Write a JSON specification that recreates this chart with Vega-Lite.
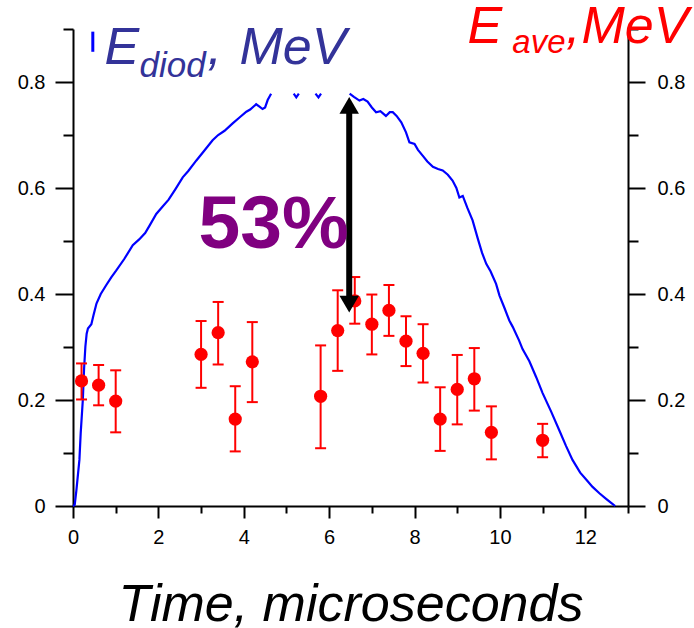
{
  "$schema": "https://vega.github.io/schema/vega-lite/v6.json",
  "width": 555,
  "height": 477,
  "autosize": {"type": "none"},
  "padding": {"left": 73, "top": 29, "right": 66, "bottom": 122},
  "background": "white",
  "config": {
    "view": {"stroke": null},
    "axis": {"grid": false, "domainColor": "black", "domainWidth": 2, "tickColor": "black", "tickWidth": 2, "labelFont": "Liberation Sans", "labelFontSize": 20, "labelColor": "black", "labelFlush": false, "labelOverlap": false}
  },
  "resolve": {"axis": {"x": "independent", "y": "independent"}},
  "layer": [
    {
      "data": {"values": [
        {"t":0,"e":0,"s":"a"},{"t":0.04,"e":0.002,"s":"a"},{"t":0.08,"e":0.03,"s":"a"},{"t":0.15,"e":0.087,"s":"a"},{"t":0.18,"e":0.137,"s":"a"},{"t":0.23,"e":0.2,"s":"a"},{"t":0.26,"e":0.26,"s":"a"},{"t":0.29,"e":0.301,"s":"a"},{"t":0.32,"e":0.325,"s":"a"},{"t":0.35,"e":0.335,"s":"a"},{"t":0.43,"e":0.343,"s":"a"},{"t":0.48,"e":0.36,"s":"a"},{"t":0.55,"e":0.382,"s":"a"},{"t":0.65,"e":0.4,"s":"a"},{"t":0.78,"e":0.417,"s":"a"},{"t":0.9,"e":0.432,"s":"a"},{"t":1.01,"e":0.444,"s":"a"},{"t":1.2,"e":0.466,"s":"a"},{"t":1.4,"e":0.492,"s":"a"},{"t":1.55,"e":0.503,"s":"a"},{"t":1.69,"e":0.515,"s":"a"},{"t":1.8,"e":0.53,"s":"a"},{"t":1.95,"e":0.551,"s":"a"},{"t":2.1,"e":0.565,"s":"a"},{"t":2.24,"e":0.578,"s":"a"},{"t":2.4,"e":0.598,"s":"a"},{"t":2.57,"e":0.62,"s":"a"},{"t":2.7,"e":0.632,"s":"a"},{"t":2.89,"e":0.652,"s":"a"},{"t":3.05,"e":0.668,"s":"a"},{"t":3.27,"e":0.69,"s":"a"},{"t":3.4,"e":0.7,"s":"a"},{"t":3.55,"e":0.708,"s":"a"},{"t":3.74,"e":0.722,"s":"a"},{"t":3.9,"e":0.733,"s":"a"},{"t":4.06,"e":0.744,"s":"a"},{"t":4.15,"e":0.748,"s":"a"},{"t":4.29,"e":0.758,"s":"a"},{"t":4.36,"e":0.754,"s":"a"},{"t":4.44,"e":0.749,"s":"a"},{"t":4.5,"e":0.752,"s":"a"},{"t":4.56,"e":0.766,"s":"a"},{"t":4.64,"e":0.778,"s":"a"},
        {"t":5.17,"e":0.778,"s":"b"},{"t":5.23,"e":0.771,"s":"b"},{"t":5.29,"e":0.778,"s":"b"},
        {"t":5.68,"e":0.778,"s":"c"},{"t":5.75,"e":0.771,"s":"c"},{"t":5.81,"e":0.778,"s":"c"},
        {"t":6.48,"e":0.778,"s":"d"},{"t":6.58,"e":0.772,"s":"d"},{"t":6.71,"e":0.765,"s":"d"},{"t":6.8,"e":0.768,"s":"d"},{"t":6.9,"e":0.763,"s":"d"},{"t":7.0,"e":0.752,"s":"d"},{"t":7.1,"e":0.743,"s":"d"},{"t":7.2,"e":0.745,"s":"d"},{"t":7.33,"e":0.736,"s":"d"},{"t":7.42,"e":0.743,"s":"d"},{"t":7.49,"e":0.743,"s":"d"},{"t":7.58,"e":0.736,"s":"d"},{"t":7.69,"e":0.724,"s":"d"},{"t":7.8,"e":0.705,"s":"d"},{"t":7.88,"e":0.686,"s":"d"},{"t":8.0,"e":0.683,"s":"d"},{"t":8.08,"e":0.672,"s":"d"},{"t":8.19,"e":0.661,"s":"d"},{"t":8.3,"e":0.65,"s":"d"},{"t":8.43,"e":0.64,"s":"d"},{"t":8.55,"e":0.636,"s":"d"},{"t":8.66,"e":0.633,"s":"d"},{"t":8.78,"e":0.625,"s":"d"},{"t":8.89,"e":0.614,"s":"d"},{"t":8.98,"e":0.6,"s":"d"},{"t":9.05,"e":0.582,"s":"d"},{"t":9.13,"e":0.585,"s":"d"},{"t":9.24,"e":0.562,"s":"d"},{"t":9.36,"e":0.539,"s":"d"},{"t":9.48,"e":0.505,"s":"d"},{"t":9.58,"e":0.478,"s":"d"},{"t":9.68,"e":0.457,"s":"d"},{"t":9.78,"e":0.443,"s":"d"},{"t":9.91,"e":0.419,"s":"d"},{"t":9.99,"e":0.397,"s":"d"},{"t":10.1,"e":0.375,"s":"d"},{"t":10.22,"e":0.35,"s":"d"},{"t":10.3,"e":0.338,"s":"d"},{"t":10.45,"e":0.312,"s":"d"},{"t":10.53,"e":0.296,"s":"d"},{"t":10.69,"e":0.273,"s":"d"},{"t":10.85,"e":0.243,"s":"d"},{"t":11.0,"e":0.213,"s":"d"},{"t":11.2,"e":0.178,"s":"d"},{"t":11.39,"e":0.143,"s":"d"},{"t":11.55,"e":0.113,"s":"d"},{"t":11.7,"e":0.087,"s":"d"},{"t":11.88,"e":0.063,"s":"d"},{"t":12.02,"e":0.05,"s":"d"},{"t":12.17,"e":0.036,"s":"d"},{"t":12.33,"e":0.024,"s":"d"},{"t":12.48,"e":0.014,"s":"d"},{"t":12.62,"e":0.005,"s":"d"},{"t":12.7,"e":0.0,"s":"d"}
      ]},
      "mark": {"type": "line", "color": "#0000FF", "strokeWidth": 2.2},
      "encoding": {
        "x": {"field": "t", "type": "quantitative", "scale": {"domain": [0, 13], "nice": false, "zero": false},
          "axis": {"orient": "bottom", "values": [0,2,4,6,8,10,12],
            "labelExpr": "format(datum.value, 'd')",
            "tickSize": 12, "labelPadding": 9,
            "title": "Time, microseconds", "titleFont": "Liberation Sans", "titleFontStyle": "italic", "titleFontWeight": "normal", "titleFontSize": 52, "titleColor": "black", "titleBaseline": "alphabetic", "titleY": 114}},
        "y": {"field": "e", "type": "quantitative", "scale": {"domain": [0, 0.9], "nice": false},
          "axis": {"orient": "left", "values": [0,0.2,0.4,0.6,0.8],
            "labelExpr": "datum.value == 0 ? '0' : format(datum.value, '.1f')",
            "tickSize": 18, "labelPadding": 10, "title": null}},
        "detail": {"field": "s"}
      }
    },
    {
      "data": {"name": "pts", "values": [
        {"t":0.2,"v":0.236,"lo":0.201,"hi":0.269},
        {"t":0.6,"v":0.228,"lo":0.19,"hi":0.266},
        {"t":1.0,"v":0.198,"lo":0.139,"hi":0.256},
        {"t":3.0,"v":0.286,"lo":0.223,"hi":0.349},
        {"t":3.4,"v":0.327,"lo":0.267,"hi":0.385},
        {"t":3.8,"v":0.164,"lo":0.103,"hi":0.226},
        {"t":4.2,"v":0.272,"lo":0.196,"hi":0.347},
        {"t":5.8,"v":0.207,"lo":0.109,"hi":0.303},
        {"t":6.2,"v":0.331,"lo":0.255,"hi":0.407},
        {"t":6.6,"v":0.387,"lo":0.344,"hi":0.432},
        {"t":7.0,"v":0.343,"lo":0.286,"hi":0.399},
        {"t":7.4,"v":0.369,"lo":0.321,"hi":0.417},
        {"t":7.8,"v":0.311,"lo":0.264,"hi":0.358},
        {"t":8.2,"v":0.288,"lo":0.233,"hi":0.343},
        {"t":8.6,"v":0.164,"lo":0.104,"hi":0.224},
        {"t":9.0,"v":0.22,"lo":0.154,"hi":0.285},
        {"t":9.4,"v":0.24,"lo":0.18,"hi":0.298},
        {"t":9.8,"v":0.139,"lo":0.088,"hi":0.188},
        {"t":11.0,"v":0.124,"lo":0.092,"hi":0.155}
      ]},
      "mark": {"type": "rule", "color": "#FF0000", "strokeWidth": 2},
      "encoding": {
        "x": {"field": "t", "type": "quantitative",
          "axis": {"orient": "bottom", "values": [1,3,5,7,9,11,13], "tickSize": 7, "labels": false, "domain": false, "title": null}},
        "y": {"field": "lo", "type": "quantitative",
          "axis": {"orient": "left", "values": [0.1,0.3,0.5,0.7,0.9], "tickSize": 10, "labels": false, "domain": false, "title": null}},
        "y2": {"field": "hi"}
      }
    },
    {
      "data": {"name": "pts"},
      "mark": {"type": "tick", "orient": "horizontal", "color": "#FF0000", "size": 11, "thickness": 2, "opacity": 1},
      "encoding": {
        "x": {"field": "t", "type": "quantitative", "axis": null},
        "y": {"field": "lo", "type": "quantitative",
          "axis": {"orient": "right", "values": [0.1,0.3,0.5,0.7,0.9], "tickSize": 10, "labels": false, "domain": false, "title": null}}
      }
    },
    {
      "data": {"name": "pts"},
      "mark": {"type": "tick", "orient": "horizontal", "color": "#FF0000", "size": 11, "thickness": 2, "opacity": 1},
      "encoding": {
        "x": {"field": "t", "type": "quantitative", "axis": null},
        "y": {"field": "hi", "type": "quantitative", "axis": null}
      }
    },
    {
      "data": {"name": "pts"},
      "mark": {"type": "circle", "color": "#FF0000", "size": 175, "opacity": 1},
      "encoding": {
        "x": {"field": "t", "type": "quantitative", "axis": null},
        "y": {"field": "v", "type": "quantitative", "scale": {"domain": [0, 0.9], "nice": false},
          "axis": {"orient": "right", "values": [0,0.2,0.4,0.6,0.8],
            "labelExpr": "datum.value == 0 ? '0' : format(datum.value, '.1f')",
            "tickSize": 17, "labelPadding": 12, "title": null}}
      }
    },
    {
      "data": {"values": [{}]},
      "mark": {"type": "rule", "color": "black", "strokeWidth": 6},
      "encoding": {
        "x": {"datum": 6.47, "type": "quantitative", "axis": null},
        "y": {"datum": 0.39, "type": "quantitative", "axis": null},
        "y2": {"datum": 0.745}
      }
    },
    {
      "data": {"values": [{}]},
      "mark": {"type": "point", "shape": "triangle-up", "filled": true, "color": "black", "size": 380, "opacity": 1},
      "encoding": {
        "x": {"datum": 6.47, "type": "quantitative", "axis": null},
        "y": {"datum": 0.756, "type": "quantitative", "axis": null}
      }
    },
    {
      "data": {"values": [{}]},
      "mark": {"type": "point", "shape": "triangle-down", "filled": true, "color": "black", "size": 380, "opacity": 1},
      "encoding": {
        "x": {"datum": 6.47, "type": "quantitative", "axis": null},
        "y": {"datum": 0.381, "type": "quantitative", "axis": null}
      }
    },
    {
      "data": {"values": [{}]},
      "mark": {"type": "rule", "color": "#0000FF", "strokeWidth": 3},
      "encoding": {
        "x": {"datum": 0.464, "type": "quantitative", "axis": null},
        "y": {"datum": 0.857, "type": "quantitative", "axis": null},
        "y2": {"datum": 0.895}
      }
    },
    {
      "data": {"values": [{"label": "53%"}]},
      "mark": {"type": "text", "font": "Liberation Sans", "fontWeight": "bold", "fontSize": 75, "color": "#800080", "align": "center", "baseline": "alphabetic"},
      "encoding": {
        "x": {"datum": 4.7, "type": "quantitative", "axis": null},
        "y": {"datum": 0.487, "type": "quantitative", "axis": null},
        "text": {"field": "label"}
      }
    },
    {
      "data": {"values": [{"label": "E"}]},
      "mark": {"type": "text", "font": "Liberation Sans", "fontStyle": "italic", "fontSize": 52, "color": "#333399", "align": "left", "baseline": "alphabetic"},
      "encoding": {"x": {"datum": 0.738, "type": "quantitative", "axis": null}, "y": {"datum": 0.834, "type": "quantitative", "axis": null}, "text": {"field": "label"}}
    },
    {
      "data": {"values": [{"label": "diod"}]},
      "mark": {"type": "text", "font": "Liberation Sans", "fontStyle": "italic", "fontSize": 35, "color": "#333399", "align": "left", "baseline": "alphabetic"},
      "encoding": {"x": {"datum": 1.557, "type": "quantitative", "axis": null}, "y": {"datum": 0.809, "type": "quantitative", "axis": null}, "text": {"field": "label"}}
    },
    {
      "data": {"values": [{"label": ","}]},
      "mark": {"type": "text", "font": "Liberation Sans", "fontStyle": "italic", "fontSize": 52, "color": "#333399", "align": "left", "baseline": "alphabetic"},
      "encoding": {"x": {"datum": 3.15, "type": "quantitative", "axis": null}, "y": {"datum": 0.834, "type": "quantitative", "axis": null}, "text": {"field": "label"}}
    },
    {
      "data": {"values": [{"label": "MeV"}]},
      "mark": {"type": "text", "font": "Liberation Sans", "fontStyle": "italic", "fontSize": 52, "color": "#333399", "align": "left", "baseline": "alphabetic"},
      "encoding": {"x": {"datum": 3.9, "type": "quantitative", "axis": null}, "y": {"datum": 0.834, "type": "quantitative", "axis": null}, "text": {"field": "label"}}
    },
    {
      "data": {"values": [{"label": "E"}]},
      "mark": {"type": "text", "font": "Liberation Sans", "fontStyle": "italic", "fontSize": 52, "color": "#FF0000", "align": "left", "baseline": "alphabetic"},
      "encoding": {"x": {"datum": 9.24, "type": "quantitative", "axis": null}, "y": {"datum": 0.874, "type": "quantitative", "axis": null}, "text": {"field": "label"}}
    },
    {
      "data": {"values": [{"label": "ave"}]},
      "mark": {"type": "text", "font": "Liberation Sans", "fontStyle": "italic", "fontSize": 33, "color": "#FF0000", "align": "left", "baseline": "alphabetic"},
      "encoding": {"x": {"datum": 10.29, "type": "quantitative", "axis": null}, "y": {"datum": 0.855, "type": "quantitative", "axis": null}, "text": {"field": "label"}}
    },
    {
      "data": {"values": [{"label": ","}]},
      "mark": {"type": "text", "font": "Liberation Sans", "fontStyle": "italic", "fontSize": 52, "color": "#FF0000", "align": "left", "baseline": "alphabetic"},
      "encoding": {"x": {"datum": 11.55, "type": "quantitative", "axis": null}, "y": {"datum": 0.874, "type": "quantitative", "axis": null}, "text": {"field": "label"}}
    },
    {
      "data": {"values": [{"label": "MeV"}]},
      "mark": {"type": "text", "font": "Liberation Sans", "fontStyle": "italic", "fontSize": 52, "color": "#FF0000", "align": "left", "baseline": "alphabetic"},
      "encoding": {"x": {"datum": 11.91, "type": "quantitative", "axis": null}, "y": {"datum": 0.874, "type": "quantitative", "axis": null}, "text": {"field": "label"}}
    }
  ]
}
